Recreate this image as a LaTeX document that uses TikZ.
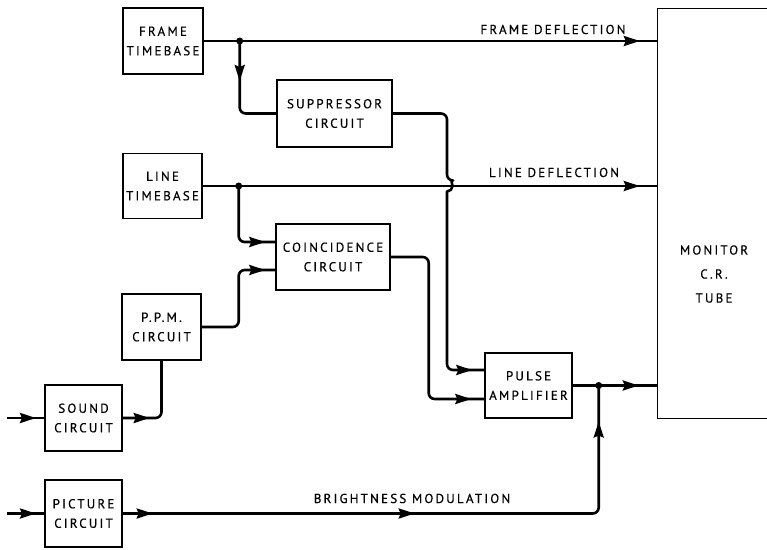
\documentclass[tikz,border=0pt]{standalone}
\usepackage{fontspec}
\newfontfamily\lab{PT Sans}[LetterSpace=17,FakeBold=0.4]
\usetikzlibrary{arrows.meta,decorations.markings}
\tikzset{
  blk/.style={draw, line width=1.4pt, inner sep=0pt, align=center,
    font=\lab\fontsize{13}{19.5}\selectfont},
  txt/.style={inner sep=0pt, align=center, font=\lab\fontsize{13}{19.5}\selectfont},
  conn/.style={line width=2.6pt, line join=round},
  marr/.style={postaction={decorate}, decoration={markings,
    mark=at position #1 with {\arrow{Stealth[length=16pt,width=10pt,inset=2pt]}}}},
  dot/.style={circle, fill, inner sep=0pt, minimum size=7pt}
}
\begin{document}
\begin{tikzpicture}[x=1pt,y=-1pt]
\useasboundingbox[fill=white] (0,0) rectangle (767,549);
% blocks
\node[blk, minimum width=80pt, minimum height=66pt] (ft) at (163,41) {FRAME\\TIMEBASE};
\node[blk, minimum width=115pt, minimum height=67pt] (sup) at (334.5,113.5) {SUPPRESSOR\\CIRCUIT};
\node[blk, minimum width=79pt, minimum height=65pt] (lt) at (162.5,186) {LINE\\TIMEBASE};
\node[blk, minimum width=114pt, minimum height=66pt] (coin) at (333,257) {COINCIDENCE\\CIRCUIT};
\node[blk, minimum width=79pt, minimum height=66pt] (ppm) at (161.5,327) {P.\,P.\,M.\\CIRCUIT};
\node[blk, minimum width=77pt, minimum height=66pt] (snd) at (83.5,418) {SOUND\\CIRCUIT};
\node[blk, minimum width=77pt, minimum height=67pt] (pic) at (83.5,513.5) {PICTURE\\CIRCUIT};
\node[blk, minimum width=87pt, minimum height=65pt] (pul) at (528.5,385.5) {PULSE\\AMPLIFIER};
% monitor (open on the right)
\node[inner sep=0pt, minimum width=109pt, minimum height=409pt] (mon) at (712.5,213.5) {};
\draw[line width=1.2pt] (mon.north east) -- (mon.north west) -- (mon.south west) -- (mon.south east);
\node[txt, font=\lab\fontsize{13}{24}\selectfont] (montxt) at (714,274) {MONITOR\\C.R.\\TUBE};
% junctions and free ends
\coordinate (j1) at ([xshift=36pt]ft.east);
\coordinate (j2) at ([xshift=36pt]lt.east);
\coordinate (j3) at ([xshift=26pt]pul.east);
\coordinate (in1) at (7,418);
\coordinate (in2) at (7,513.5);
% connectors
\draw[conn, marr=-18pt] (ft.east) -- (ft.east -| mon.west);
\draw[conn, rounded corners=6pt, marr=40pt] (j1) |- (sup.west);
\draw[conn, marr=-18pt] (lt.east) -- (lt.east -| mon.west);
\draw[conn, marr=-12pt] (sup.east) [rounded corners=6pt] -- (447,113.5) -- (447,180.5)
   [sharp corners] arc[start angle=-90, end angle=90, radius=5.5]
   [rounded corners=6pt] -- (447,370) -- ([yshift=15.5pt]pul.west);
\draw[conn, rounded corners=6pt, marr=-10pt] (j2) |- ([yshift=15pt]coin.west);
\draw[conn, rounded corners=6pt, marr=-10pt] (ppm.east) -- ++(37,0) |- ([yshift=-13pt]coin.west);
\draw[conn, rounded corners=6pt, marr=-13pt] (coin.east) -- ++(38,0) |- ([yshift=-13.5pt]pul.west);
\draw[conn, marr=29pt] (in1) -- (snd.west);
\draw[conn, rounded corners=6pt, marr=27pt] (snd.east) -| (ppm.south);
\draw[conn, marr=29pt] (in2) -- (pic.west);
\draw[conn, rounded corners=6pt, postaction={decorate}, decoration={markings,
    mark=at position 30pt with {\arrow{Stealth[length=16pt,width=10pt,inset=2pt]}},
    mark=at position 292pt with {\arrow{Stealth[length=16pt,width=10pt,inset=2pt]}},
    mark=at position -36pt with {\arrow{Stealth[length=16pt,width=10pt,inset=2pt]}}}]
   (pic.east) -| (j3);
\draw[conn, marr=-19pt] (pul.east) -- (pul.east -| mon.west);
\node[dot] (d1) at (j1) {};
\node[dot] (d2) at (j2) {};
\node[dot] (d3) at (j3) {};
% labels
\node[txt, anchor=base] (lfd) at (553,34) {FRAME DEFLECTION};
\node[txt, anchor=base] (lld) at (554,177) {LINE DEFLECTION};
\node[txt, anchor=base] (lbm) at (412,503) {BRIGHTNESS MODULATION};
\end{tikzpicture}
\end{document}
